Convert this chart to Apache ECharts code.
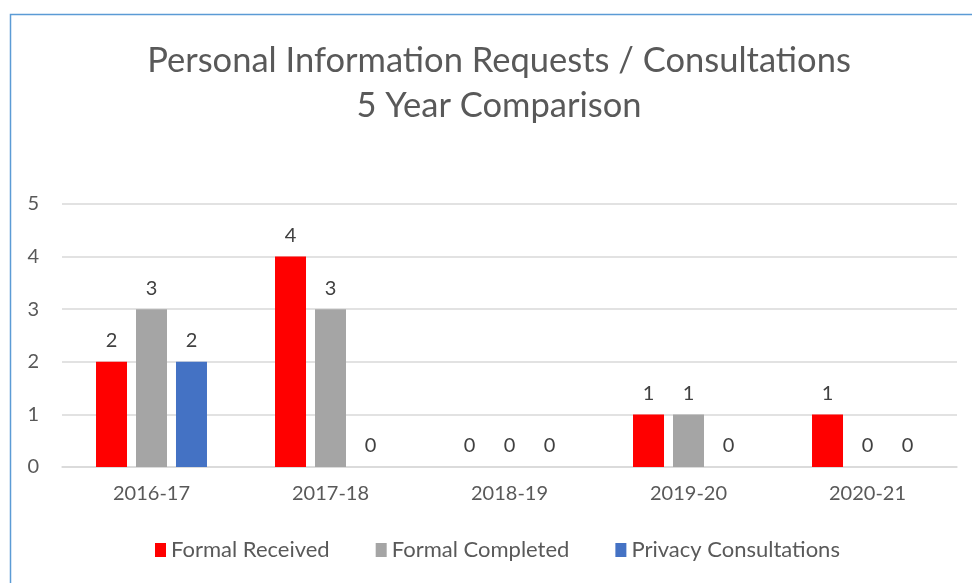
<!DOCTYPE html>
<html><head><meta charset="utf-8">
<script src="https://cdn.jsdelivr.net/npm/echarts@6/dist/echarts.min.js"></script>
<style>html,body{margin:0;padding:0;background:#fff}#c{width:972px;height:583px}</style>
</head><body><div id="c"></div>
<script>
const categories = ['2016-17','2017-18','2018-19','2019-20','2020-21'];
const formalReceived = [2,4,0,1,1];
const formalCompleted = [3,3,0,1,0];
const privacyConsultations = [2,0,0,0,0];
const seriesNames = ['Formal Received','Formal Completed','Privacy Consultations'];
const colors = ['#FF0000','#A5A5A5','#4472C4'];
const yTicks = [0,1,2,3,4,5];

const FONT = 'Lato, "Open Sans", sans-serif';
const chart = echarts.init(document.getElementById('c'));
const lbl = {show:true, position:'top', distance:11, color:'#404040', fontSize:20, fontFamily:FONT};
const mk = (name, data, i) => ({
  name, type:'bar', data, barWidth:31, barGap:'29%',
  itemStyle:{color:colors[i]}, label:lbl
});
chart.setOption({
  animation:false,
  graphic:[{type:'rect', shape:{x:10.5,y:14.5,width:980,height:600},
    style:{fill:'none', stroke:'#5B9BD5', lineWidth:1.5}, silent:true}],
  title:{text:'Personal Information Requests / Consultations\n5 Year Comparison',
    left:494, top:33, textAlign:'center',
    textStyle:{fontFamily:FONT, fontSize:34.5, fontWeight:'normal', color:'#595959', lineHeight:45}},
  legend:{bottom:17, left:150, itemWidth:11, itemHeight:14, itemGap:46,
    icon:'rect', textStyle:{fontFamily:FONT, fontSize:22, color:'#595959'}, data:seriesNames},
  grid:{left:62, right:15, top:204, bottom:116},
  xAxis:{type:'category', data:categories,
    axisLine:{lineStyle:{color:'#D9D9D9', width:1.5}}, axisTick:{show:false},
    axisLabel:{fontFamily:FONT, fontSize:20, color:'#595959', margin:17}},
  yAxis:{type:'value', min:0, max:5, interval:1,
    axisLine:{show:false}, axisTick:{show:false},
    splitLine:{lineStyle:{color:'#D9D9D9', width:1.5}},
    axisLabel:{fontFamily:FONT, fontSize:20, color:'#595959', margin:23,
      formatter:v => yTicks.includes(v) ? String(v) : ''}},
  series:[mk(seriesNames[0],formalReceived,0), mk(seriesNames[1],formalCompleted,1), mk(seriesNames[2],privacyConsultations,2)]
});
</script></body></html>
